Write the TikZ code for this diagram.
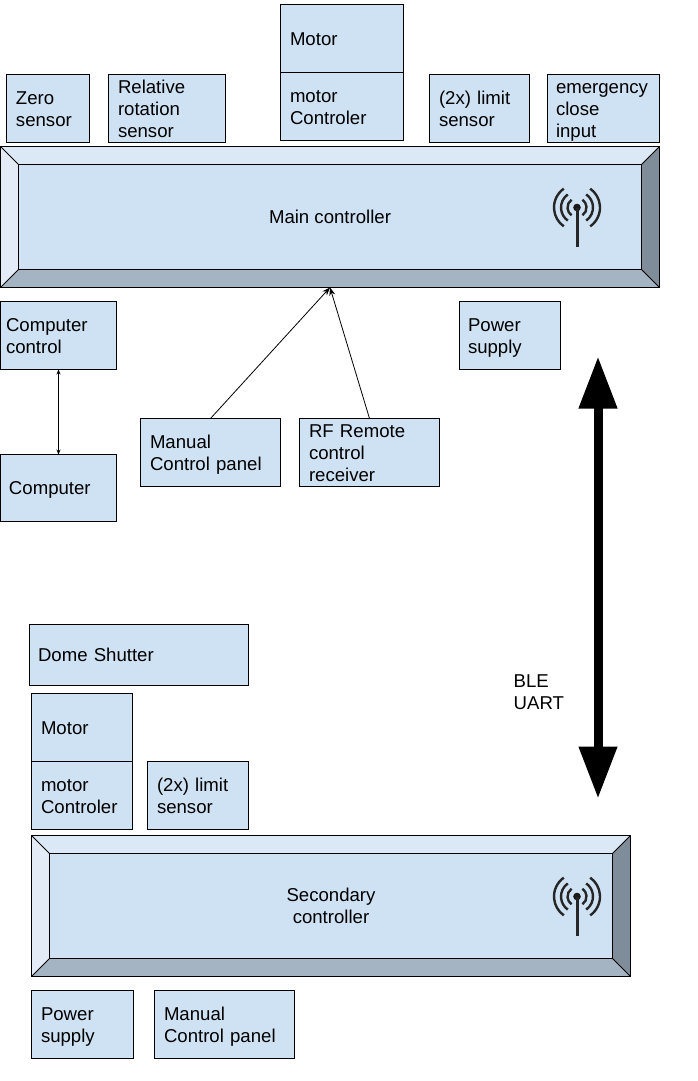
\documentclass[tikz,border=0pt]{standalone}
\usepackage{fontspec}
\setmainfont{Liberation Sans}
\usetikzlibrary{arrows.meta}
\definecolor{boxblue}{HTML}{CFE2F3}
\definecolor{bevtop}{HTML}{DBE8F5}
\definecolor{bevleft}{HTML}{E3ECF6}
\definecolor{bevright}{HTML}{7F8C9A}
\definecolor{bevbottom}{HTML}{A5B4C2}
\tikzset{
	partbox/.style={draw=black,line width=1pt,outer sep=0pt,fill=boxblue,anchor=north west,align=left,inner ysep=0pt,font=\fontsize{18.6}{22}\selectfont},
	bevelbox/.style={draw=black,line width=1.2pt,outer sep=0pt,align=center,font=\fontsize{18.6}{22}\selectfont},
	freelabel/.style={align=left,anchor=north west,inner sep=0pt,font=\fontsize{18.6}{22}\selectfont},
	thinarrow/.style={line width=0.8pt,-{Stealth[length=8pt,width=6pt]}},
	wave/.style={line width=2.4pt,black!85},
}
\newcommand{\partstrut}{\rule[-4.1pt]{0pt}{22pt}}
\newcommand{\bevelstrut}{\rule[-5pt]{0pt}{22pt}}
% left, top, width, height, text margin
\newcommand{\partbox}[7]{
	\pgfmathsetmacro{\tw}{#4-2*#6}
	\node[partbox,inner xsep=#6pt,text width=\tw pt,minimum height=#5pt] (#7) at (#2,#3) {\partstrut#1\partstrut};
}
% bevelled controller with its aerial
\newcommand{\controller}[6]{
	\fill[bevtop] (#2,#3) -- (#4,#3) -- (#4-18,#3+18) -- (#2+18,#3+18) -- cycle;
	\fill[bevleft] (#2,#3) -- (#2+18,#3+18) -- (#2+18,#5-18) -- (#2,#5) -- cycle;
	\fill[bevright] (#4,#3) -- (#4-18,#3+18) -- (#4-18,#5-18) -- (#4,#5) -- cycle;
	\fill[bevbottom] (#2,#5) -- (#2+18,#5-18) -- (#4-18,#5-18) -- (#4,#5) -- cycle;
	\fill[boxblue] (#2+18,#3+18) rectangle (#4-18,#5-18);
	\draw[line width=1pt] (#2+18,#3+18) rectangle (#4-18,#5-18);
	\draw[line width=0.8pt] (#2,#3) -- (#2+18,#3+18) (#4,#3) -- (#4-18,#3+18)
		(#2,#5) -- (#2+18,#5-18) (#4,#5) -- (#4-18,#5-18);
	\pgfmathsetmacro{\bw}{#4-#2}
	\pgfmathsetmacro{\bh}{#5-#3}
	\node[bevelbox,minimum width=\bw pt,minimum height=\bh pt,anchor=north west] (#6) at (#2,#3) {\bevelstrut#1\bevelstrut};
	\fill[black!90] (576.5,#3+61) circle (3.8pt);
	\draw[line width=3pt,black!85] (576.5,#3+61) -- (576.5,#3+100.5);
	\foreach \r in {9.5,16,23}{
		\draw[wave] (576.5,#3+61) ++(-55:\r pt) arc[start angle=-55,end angle=55,radius=\r pt];
		\draw[wave] (576.5,#3+61) ++(125:\r pt) arc[start angle=125,end angle=235,radius=\r pt];
	}
}
\begin{document}
\begin{tikzpicture}[x=1pt,y=-1pt]
	\useasboundingbox[fill=white] (-0.5,-0.5) rectangle (696.5,1080.5);
	% main controller and what sits on it
	\partbox{Motor}{280}{4}{123}{68}{9.5}{motortop}
	\partbox{motor\\Controler}{280}{72}{123}{68}{9.5}{motorctl}
	\partbox{Zero\\sensor}{6}{74}{83}{68}{9.5}{zerosensor}
	\partbox{Relative\\rotation\\sensor}{108}{74}{117}{68}{9.5}{relsensor}
	\partbox{(2x) limit\\sensor}{429}{74}{100}{68}{9.5}{limittop}
	\partbox{emergency\\close\\input}{547}{74}{112}{68}{8.5}{emergency}
	\controller{Main controller}{0}{146}{659}{287}{mainctl}
	\partbox{Computer\\control}{0}{301}{116}{68}{5.5}{compctl}
	\partbox{Computer}{0}{454}{116}{67}{8.5}{comp}
	\partbox{Manual\\Control panel}{140}{418}{140}{68}{9.5}{manualtop}
	\partbox{RF Remote\\control\\receiver}{299}{418}{140}{68}{9.5}{rfremote}
	\partbox{Power\\supply}{459}{301}{101}{68}{8.5}{powertop}
	% secondary controller
	\partbox{Dome Shutter}{29}{624}{219}{61}{8.5}{shutter}
	\partbox{Motor}{31}{693}{101}{68}{9.5}{motorbot}
	\partbox{motor\\Controler}{31}{761}{101}{68}{9.5}{motorctlbot}
	\partbox{(2x) limit\\sensor}{147}{761}{101}{68}{9.5}{limitbot}
	\controller{Secondary\\controller}{31}{835}{630}{976}{secctl}
	\partbox{Power\\supply}{31}{990}{102}{68}{9.5}{powerbot}
	\partbox{Manual\\Control panel}{154}{990}{140}{68}{9.5}{manualbot}
	% links
	\draw[thinarrow] (manualtop.north) -- (mainctl.south);
	\draw[thinarrow] (rfremote.north) -- (mainctl.south);
	\draw[line width=0.8pt,{Stealth[length=5pt,width=4pt]}-{Stealth[length=5pt,width=4pt]}] (compctl.south) -- (comp.north);
	% radio link
	\coordinate (bletop) at (597.5,356);
	\coordinate (blebot) at (597.5,798);
	\draw[line width=9pt,{Triangle[length=52pt,width=36.5pt]}-{Triangle[length=52pt,width=36.5pt]}] (bletop) -- (blebot);
	\node[freelabel] (blelabel) at (513,674) {BLE\\UART};
\end{tikzpicture}
\end{document}
